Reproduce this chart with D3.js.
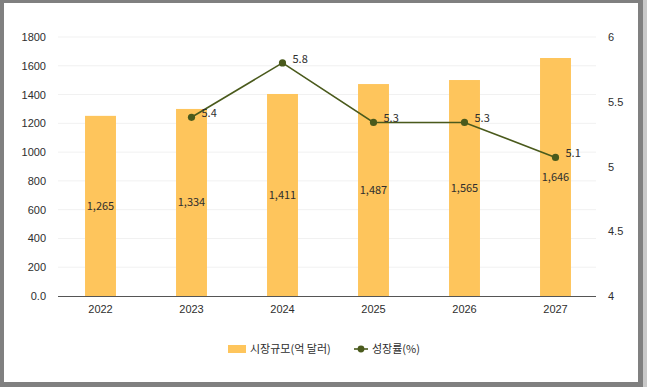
<!DOCTYPE html>
<html>
<head>
<meta charset="utf-8">
<script src="https://cdn.jsdelivr.net/npm/d3@7"></script>
<style>
  html, body { margin: 0; padding: 0; background: #808080; }
  svg { display: block; font-family: "Noto Sans CJK KR", "Noto Sans", sans-serif; }
</style>
</head>
<body>
<div id="chart"></div>
<script>
// data (bar heights as drawn, labels as printed)
const years = ["2022", "2023", "2024", "2025", "2026", "2027"]
const marketSize = [1252, 1300, 1404, 1473, 1501, 1654]
const marketLabels = ["1,265", "1,334", "1,411", "1,487", "1,565", "1,646"]
const growthYears = ["2023", "2024", "2025", "2026", "2027"]
const growthRate = [5.38, 5.8, 5.34, 5.34, 5.07]
const leftTicks = [0, 200, 400, 600, 800, 1000, 1200, 1400, 1600, 1800]
const rightTicks = [4, 4.5, 5, 5.5, 6]

const W = 647, H = 387
const barColor = "#fec55c"
const lineColor = "#4a5a1c"
const textColor = "#2e2e2e"

const svg = d3.select("#chart").append("svg")
    .attr("width", W)
    .attr("height", H)

// white card on gray frame
svg.append("rect").attr("x", 0).attr("y", 0).attr("width", W).attr("height", H).attr("fill", "#808080")
svg.append("rect").attr("x", 643).attr("y", 0).attr("width", 4).attr("height", H).attr("fill", "#c9c9c9")
svg.append("rect").attr("x", 4).attr("y", 3).attr("width", 634).attr("height", 379).attr("fill", "#fff")

const plotTop = 37, plotBottom = 296

let x = d3.scaleBand()
    .domain(years)
    .range([55, 601])
    .paddingInner(0.66)
    .paddingOuter(0.33)

let y = d3.scaleLinear()
    .domain([0, 1800])
    .range([plotBottom, plotTop])

let y2 = d3.scaleLinear()
    .domain([4, 6])
    .range([plotBottom, plotTop])

// grid lines
svg.append("g")
    .selectAll("line")
    .data(leftTicks.slice(1))
    .enter()
    .append("line")
    .attr("x1", 58).attr("x2", 596)
    .attr("y1", d => y(d)).attr("y2", d => y(d))
    .attr("stroke", "#f1f1f1")
    .attr("stroke-width", 1)

// left axis labels
let leftAxis = svg.append("g")
    .attr("transform", "translate(46,0)")
    .call(d3.axisLeft(y).tickValues(leftTicks).tickSize(0).tickPadding(0)
        .tickFormat(d => d === 0 ? "0.0" : d))
leftAxis.select(".domain").remove()
leftAxis.selectAll("text").attr("font-size", 11).attr("fill", textColor)

// right axis labels
let rightAxis = svg.append("g")
    .attr("transform", "translate(608,0)")
    .call(d3.axisRight(y2).tickValues(rightTicks).tickSize(0).tickPadding(0)
        .tickFormat(d => d))
rightAxis.select(".domain").remove()
rightAxis.selectAll("text").attr("font-size", 11).attr("fill", textColor)

// bars
svg.append("g")
    .selectAll("rect")
    .data(marketSize)
    .enter()
    .append("rect")
    .attr("x", (d, i) => x(years[i]))
    .attr("y", d => y(d))
    .attr("width", x.bandwidth())
    .attr("height", d => y(0) - y(d))
    .attr("fill", barColor)

// bar value labels
svg.append("g")
    .selectAll("text")
    .data(marketSize)
    .enter()
    .append("text")
    .attr("x", (d, i) => x(years[i]) + x.bandwidth() / 2)
    .attr("y", d => (y(d) + y(0)) / 2)
    .attr("dy", "0.35em")
    .attr("text-anchor", "middle")
    .attr("font-size", 11)
    .attr("fill", textColor)
    .text((d, i) => marketLabels[i])

// bottom axis
let bottomAxis = svg.append("g")
    .attr("transform", "translate(0," + plotBottom + ")")
    .call(d3.axisBottom(x).tickSize(0).tickPadding(9))
bottomAxis.select(".domain")
    .attr("d", "M58,0.5H596")
    .attr("stroke", "#555")
bottomAxis.selectAll("text").attr("font-size", 11).attr("fill", textColor)

// growth line
const cx = (d, i) => x(growthYears[i]) + x.bandwidth() / 2
svg.append("path")
    .datum(growthRate)
    .attr("fill", "none")
    .attr("stroke", lineColor)
    .attr("stroke-width", 1.6)
    .attr("d", d3.line()
        .x(cx)
        .y(d => y2(d)))

svg.append("g")
    .selectAll("circle")
    .data(growthRate)
    .enter()
    .append("circle")
    .attr("cx", cx)
    .attr("cy", d => y2(d))
    .attr("r", 3.6)
    .attr("fill", lineColor)

svg.append("g")
    .selectAll("text")
    .data(growthRate)
    .enter()
    .append("text")
    .attr("x", (d, i) => cx(d, i) + 10)
    .attr("y", d => y2(d) - 4)
    .attr("dy", "0.35em")
    .attr("font-size", 11)
    .attr("fill", textColor)
    .text(d => d.toFixed(1))

// legend
let legend = svg.append("g")
legend.append("rect")
    .attr("x", 228).attr("y", 345)
    .attr("width", 18).attr("height", 8)
    .attr("fill", barColor)
legend.append("text")
    .attr("x", 250).attr("y", 349)
    .attr("dy", "0.35em")
    .attr("font-size", 11)
    .attr("fill", textColor)
    .text("시장규모(억 달러)")
legend.append("line")
    .attr("x1", 354).attr("x2", 368)
    .attr("y1", 349).attr("y2", 349)
    .attr("stroke", lineColor).attr("stroke-width", 1.6)
legend.append("circle")
    .attr("cx", 361).attr("cy", 349).attr("r", 3.4)
    .attr("fill", lineColor)
legend.append("text")
    .attr("x", 372).attr("y", 349)
    .attr("dy", "0.35em")
    .attr("font-size", 11)
    .attr("fill", textColor)
    .text("성장률(%)")
</script>
</body>
</html>
